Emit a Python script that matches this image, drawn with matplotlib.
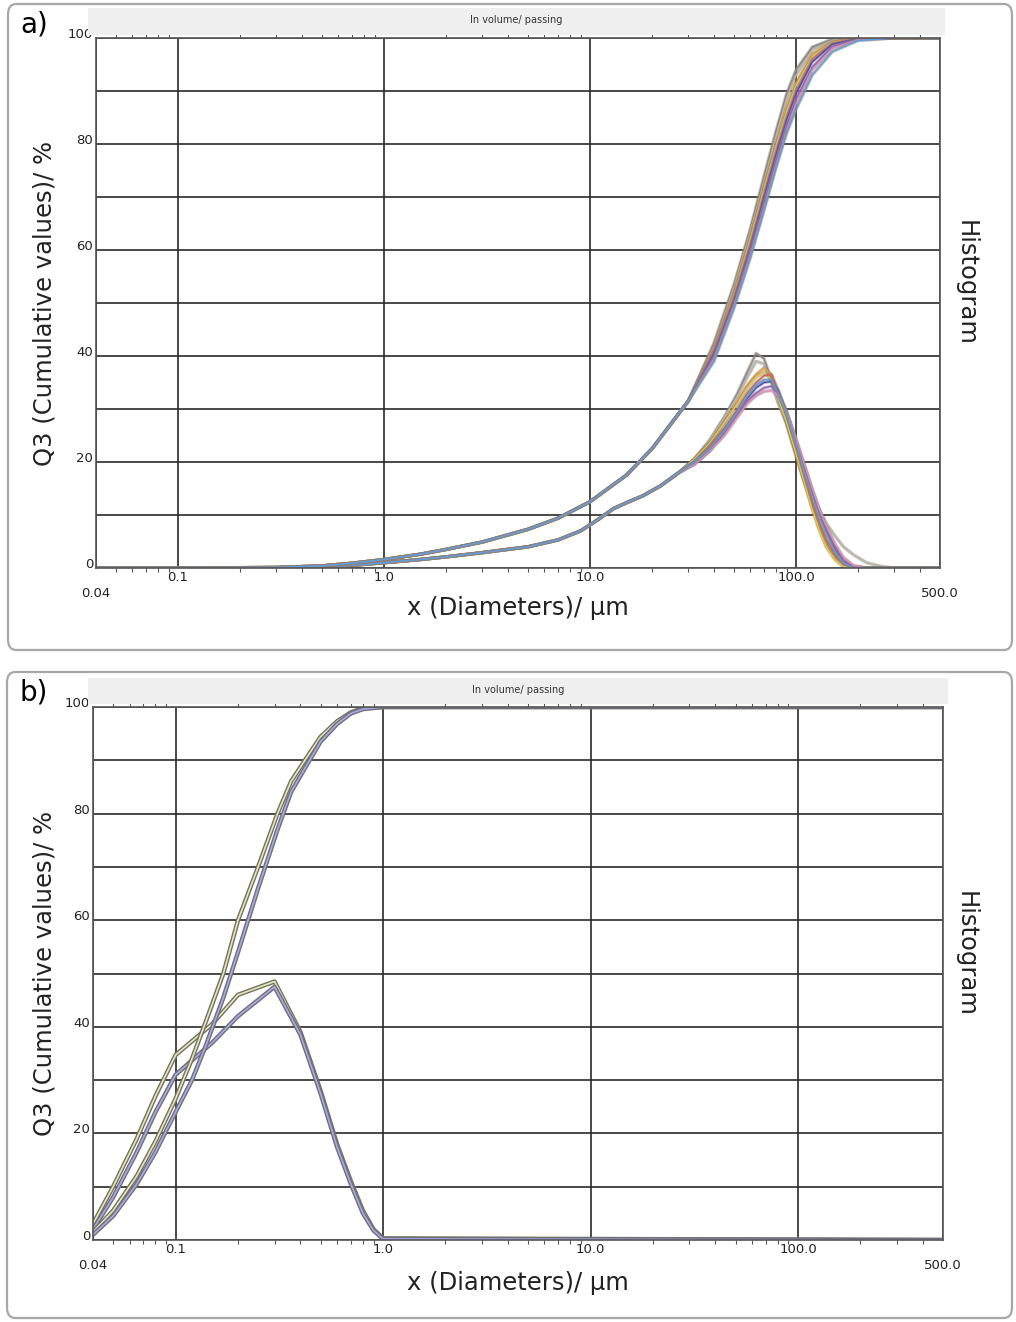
import numpy as np
import matplotlib.pyplot as plt
import matplotlib.patheffects as pe
import matplotlib.transforms as mtrans
from matplotlib.patches import FancyBboxPatch, Rectangle
from matplotlib.ticker import LogLocator, NullFormatter

W, H = 1016, 1322

# ---- panel a: cumulative Q3 curves (shared lower part, then per sample)
xc_low = [0.04, 0.1, 0.3, 0.5, 0.7, 1.0, 1.5, 2, 3, 5, 7, 10, 15, 20, 30]
qc_low = [0, 0, 0.1, 0.4, 0.9, 1.6, 2.6, 3.5, 4.9, 7.3, 9.4, 12.5, 17.5, 22.5, 31.5]
xc_high = [40, 50, 60, 70, 80, 90, 100, 120, 150, 200, 300, 500]
qc_high = [
    [42.5, 53.5, 64, 74, 82.5, 89.5, 94, 98.3, 99.8, 100, 100, 100],
    [42, 53, 63.5, 73, 81.5, 88.5, 93, 97.8, 99.6, 100, 100, 100],
    [41.5, 52, 62.5, 72, 80, 87, 91.5, 97, 99.3, 100, 100, 100],
    [41, 51.5, 62, 71.5, 79.5, 86, 91, 96.5, 99.2, 100, 100, 100],
    [41, 51, 61, 70.5, 78.5, 85, 90, 96, 99, 100, 100, 100],
    [40.5, 50.5, 60.5, 70, 78, 84.5, 89.5, 95.5, 98.8, 99.9, 100, 100],
    [40, 50, 60, 69, 77, 83.5, 88.5, 94.5, 98.4, 99.8, 100, 100],
    [39.5, 49.5, 59, 68, 76, 82.5, 87.5, 94, 98, 99.7, 100, 100],
    [39, 49, 58.5, 67.5, 75.5, 82, 86.5, 93, 97.4, 99.5, 100, 100],
]

# ---- panel a: histogram curves
xh_low = [0.04, 0.3, 0.5, 0.7, 1, 1.5, 2, 3, 5, 7, 9, 11, 13, 15, 18, 22, 27]
qh_low = [0, 0, 0.2, 0.5, 1.0, 1.6, 2.1, 2.9, 4.0, 5.3, 7.0, 9.2, 11.2, 12.3, 13.6, 15.5, 18]
xh_high = [32, 38, 45, 52, 58, 64, 70, 76, 82, 90, 100, 110, 120, 130, 140, 155, 170, 190, 220, 260, 300, 500]
qh_high = [
    [20.5, 24, 28.5, 33, 37, 40.5, 39.5, 35.5, 31.5, 27, 21, 16, 12, 8, 5, 2, 0.5, 0, 0, 0, 0, 0],
    [20.5, 24, 28.5, 32.5, 36, 39, 38.5, 35, 31, 27.5, 22, 17.5, 14, 11, 8.5, 6, 4, 2.5, 1, 0.3, 0, 0],
    [20.5, 23.5, 27.5, 31.5, 34.5, 36.5, 37.8, 36.5, 33, 28, 22, 16.5, 11.5, 7.5, 4.5, 1.8, 0.4, 0, 0, 0, 0, 0],
    [20.5, 23.5, 27.5, 31, 34, 36, 37, 35.5, 32, 27.5, 21.5, 16, 11, 7, 4, 1.5, 0.3, 0, 0, 0, 0, 0],
    [20, 23, 26.5, 30, 33, 35, 36.3, 36.5, 33.5, 29, 23, 17.5, 12.5, 8.5, 5.5, 2.5, 0.8, 0, 0, 0, 0, 0],
    [20, 22.5, 26, 29.5, 32, 34, 35, 35.2, 33.5, 29.5, 24, 19, 14.5, 10.5, 7, 3.5, 1.2, 0.2, 0, 0, 0, 0],
    [19.5, 22, 25.5, 29, 31.5, 33, 34, 34.3, 33, 29.5, 24, 19, 14.5, 10.5, 7.5, 4, 1.5, 0.3, 0, 0, 0, 0],
    [19.5, 22, 25, 28.5, 31, 32.5, 33.3, 33.5, 32.5, 29.5, 24.5, 19.5, 15, 11, 8, 4.5, 2, 0.5, 0, 0, 0, 0],
    [20, 22.5, 26, 29.5, 32.5, 34.5, 35.5, 35.5, 33, 29, 23.5, 18, 13.5, 9.5, 6.5, 3, 1, 0, 0, 0, 0, 0],
]
colors_a = ['#8a8a8a', '#b8b8b8', '#f0a030', '#e8cc40', '#e06050',
            '#3a4ad0', '#9a5ac8', '#e88ac8', '#5aa0e0']

# ---- panel b
xb_cum = [0.04, 0.05, 0.065, 0.08, 0.1, 0.12, 0.14, 0.17, 0.2, 0.25, 0.31, 0.36,
          0.42, 0.5, 0.6, 0.7, 0.8, 1.0, 500]
qb_cum_olive = [1.5, 5.5, 12, 18.5, 26.5, 34, 41, 50, 60, 70, 80, 86,
                90, 94.4, 97.3, 99, 99.8, 100, 100]
qb_cum_blue = [1, 4.5, 10.5, 16.5, 24, 30, 36.5, 45.5, 54, 66, 77, 84,
               88.5, 93.5, 96.8, 98.8, 99.6, 100, 100]
xb_his = [0.04, 0.05, 0.065, 0.08, 0.1, 0.15, 0.2, 0.3, 0.4, 0.5, 0.6, 0.7,
          0.8, 0.9, 1.0, 500]
qb_his_olive = [3, 10, 19, 27, 34.7, 40.5, 46, 48.5, 39, 28, 18, 11, 5.5, 2, 0.3, 0]
qb_his_blue = [2, 8, 16.5, 24, 31, 37, 42, 47.5, 38.5, 27.5, 17.5, 10.5, 5, 1.8, 0.2, 0]

y_ticks = list(range(0, 101, 10))
y_labels = [str(v) if v % 20 == 0 else '' for v in y_ticks]
x_ticks = [0.04, 0.1, 1, 10, 100, 500]
x_labels = ['0.04', '0.1', '1.0', '10.0', '100.0', '500.0']

narrow = ['Liberation Sans Narrow', 'DejaVu Sans']
plain = ['DejaVu Sans']

fig = plt.figure(figsize=(W / 100, H / 100), dpi=100)


def box(x0, y0, x1, y1):
    return [x0 / W, 1 - y1 / H, (x1 - x0) / W, (y1 - y0) / H]


def panel(rect_px, frame_px, bar_px, letter, lab_y):
    x0, y0, x1, y1 = frame_px
    fig.patches.append(FancyBboxPatch((x0 / W, 1 - y1 / H), (x1 - x0) / W, (y1 - y0) / H,
                                      boxstyle='round,pad=0,rounding_size=0.008',
                                      transform=fig.transFigure, fc='none',
                                      ec='#a8a8a8', lw=1.6))
    bx0, by0, bx1, by1 = bar_px
    fig.patches.append(Rectangle((bx0 / W, 1 - by1 / H), (bx1 - bx0) / W, (by1 - by0) / H,
                                 transform=fig.transFigure, fc='#efefef', ec='none'))
    fig.text((bx0 + bx1) / 2 / W, 1 - (by0 + 12) / H, 'In volume/ passing',
             fontsize=7, family=narrow, ha='center', va='center', color='#333333')
    fig.text(20 / W, 1 - (y0 + 20) / H, letter, fontsize=20, family=plain,
             ha='left', va='center')
    ax = fig.add_axes(box(*rect_px))
    ax.set_xscale('log')
    ax.set_xlim(0.04, 500)
    ax.set_ylim(0, 100)
    ax.set_yticks(y_ticks, y_labels)
    ax.set_xticks(x_ticks, x_labels)
    ax.xaxis.set_minor_locator(LogLocator(base=10, subs=np.arange(2, 10)))
    ax.xaxis.set_minor_formatter(NullFormatter())
    ax.tick_params(axis='both', which='major', length=0, labelsize=9.5,
                   colors='#222222')
    ax.tick_params(axis='y', pad=2)
    ax.tick_params(axis='x', which='minor', length=3, width=0.8,
                   top=True, bottom=True, direction='out', color='#555555')
    for lab in ax.get_xticklabels() + ax.get_yticklabels():
        lab.set_family(narrow)
    off = mtrans.ScaledTranslation(0, 5 / 100, fig.dpi_scale_trans)
    for lab in ax.get_yticklabels():
        lab.set_transform(lab.get_transform() + off)
    xoff = mtrans.ScaledTranslation(5 / 100, 0, fig.dpi_scale_trans)
    for lab in ax.get_xticklabels():
        lab.set_transform(lab.get_transform() + xoff)
    for i, t in enumerate(ax.xaxis.get_major_ticks()):
        t.set_pad(14 if i in (0, 5) else 2)
    ax.grid(True, which='major', color='#2a2a2a', lw=1.2)
    for s in ax.spines.values():
        s.set_color('#555555')
        s.set_linewidth(1.2)
    ax.set_axisbelow(True)
    cy = (rect_px[1] + rect_px[3]) / 2
    fig.text(45 / W, 1 - cy / H, 'Q3 (Cumulative values)/ %', rotation=90,
             fontsize=17.5, family=plain, ha='center', va='center', color='#222222')
    fig.text(966 / W, 1 - (cy - 20) / H, 'Histogram', rotation=270,
             fontsize=17.5, family=plain, ha='center', va='center', color='#222222')
    fig.text(518 / W, 1 - lab_y / H, 'x (Diameters)/ µm', fontsize=17.5,
             family=plain, ha='center', va='center', color='#222222')
    return ax


halo = [pe.Stroke(linewidth=2.4, foreground='#8c8070', alpha=0.5), pe.Normal()]

ax_a = panel((96, 38, 940, 568), (8, 4, 1012, 650), (88, 8, 945, 35), 'a)', 608)
for qh, c in zip(qh_high, colors_a):
    ax_a.plot(xh_low + xh_high, qh_low + qh, color=c, lw=1.0, path_effects=halo)
for qc, c in zip(qc_high, colors_a):
    ax_a.plot(xc_low + xc_high, qc_low + qc, color=c, lw=1.0, path_effects=halo)

ax_b = panel((93, 707, 943, 1240), (7, 672, 1012, 1318), (88, 678, 948, 704), 'b)', 1283)
dbl = [pe.Stroke(linewidth=3.2, foreground='#707070'), pe.Normal()]
ax_b.plot(xb_his, qb_his_olive, color='#e8e8a8', lw=1.2, path_effects=dbl)
ax_b.plot(xb_his, qb_his_blue, color='#a8a8f0', lw=1.2, path_effects=dbl)
ax_b.plot(xb_cum, qb_cum_olive, color='#e8e8a8', lw=1.2, path_effects=dbl)
ax_b.plot(xb_cum, qb_cum_blue, color='#a8a8f0', lw=1.2, path_effects=dbl)

fig.savefig('out.png', dpi=100)
